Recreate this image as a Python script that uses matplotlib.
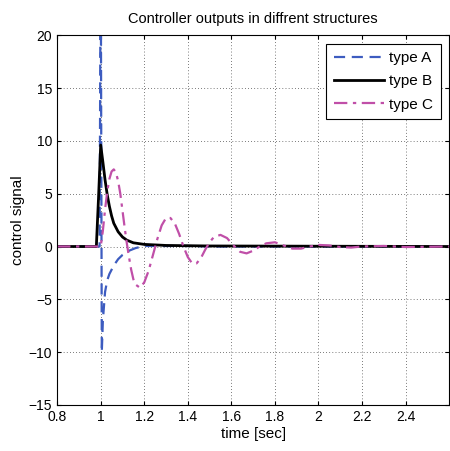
import matplotlib

matplotlib.use("Agg")
import matplotlib.pyplot as plt

plt.rcParams["font.family"] = ["Liberation Sans", "DejaVu Sans"]

# values (time in s, control signal)
t_a = [0.8, 0.995, 1.0, 1.005, 1.01, 1.02, 1.03, 1.04, 1.06, 1.08, 1.10,
       1.13, 1.16, 1.20, 1.30, 1.40, 1.50, 2.6]
u_a = [0.0, 0.0, 30.0, -10.0, -7.0, -4.3, -3.2, -2.6, -1.8, -1.2, -0.8,
       -0.4, -0.15, 0.05, 0.05, 0.05, 0.0, 0.0]

t_b = [0.8, 0.98, 0.99, 1.0, 1.01, 1.02, 1.03, 1.04, 1.05, 1.06, 1.08,
       1.10, 1.12, 1.15, 1.20, 1.30, 1.50, 2.6]
u_b = [0.0, 0.0, 4.6, 9.6, 8.0, 6.3, 4.9, 3.8, 2.9, 2.2, 1.4,
       0.9, 0.6, 0.35, 0.2, 0.1, 0.05, 0.0]

t_c = [0.8, 1.0, 1.01, 1.02, 1.03, 1.04, 1.05, 1.06, 1.07, 1.08, 1.09,
       1.10, 1.11, 1.12, 1.13, 1.14, 1.15, 1.16, 1.18, 1.20, 1.22, 1.24,
       1.26, 1.28, 1.30, 1.32, 1.34, 1.36, 1.38, 1.40, 1.42, 1.44, 1.46,
       1.48, 1.50, 1.52, 1.55, 1.58, 1.61, 1.64, 1.67, 1.70, 1.73, 1.76,
       1.80, 1.84, 1.88, 1.92, 1.96, 2.0, 2.05, 2.1, 2.15, 2.2, 2.3, 2.4, 2.6]
u_c = [0.0, 0.0, 1.5, 3.5, 5.2, 6.4, 7.1, 7.3, 7.0, 6.2, 5.0,
       3.4, 1.8, 0.3, -1.0, -2.2, -3.1, -3.6, -3.9, -3.4, -2.3, -0.8,
       0.7, 2.0, 2.7, 2.7, 2.2, 1.2, 0.0, -1.0, -1.6, -1.6, -1.1,
       -0.3, 0.4, 0.9, 1.1, 0.8, 0.1, -0.5, -0.65, -0.4, 0.0, 0.3,
       0.4, 0.1, -0.2, -0.2, 0.0, 0.15, 0.1, -0.05, -0.1, 0.0, 0.05, -0.05, 0.0]

x_ticks = [0.8, 1, 1.2, 1.4, 1.6, 1.8, 2, 2.2, 2.4]
x_labels = ["0.8", "1", "1.2", "1.4", "1.6", "1.8", "2", "2.2", "2.4"]
y_ticks = [-15, -10, -5, 0, 5, 10, 15, 20]

fig = plt.figure(figsize=(4.5, 4.51), dpi=100)
ax = fig.add_axes([0.127, 0.102, 0.871, 0.820])

ax.plot(t_a, u_a, color="#3d5cc0", ls=(0, (5, 3)), lw=1.6, label="type A")
ax.plot(t_b, u_b, color="black", lw=2.0, label="type B")
ax.plot(t_c, u_c, color="#c04fa8", ls=(0, (6, 2.5, 1.5, 2.5)), lw=1.6, label="type C")

ax.set_xlim(0.8, 2.6)
ax.set_ylim(-15, 20)
ax.set_xticks(x_ticks, x_labels)
ax.set_yticks(y_ticks)
ax.tick_params(direction="in", top=True, right=True, labelsize=10, length=3)
ax.grid(True, color="black", ls=(0, (1, 3.5)), lw=0.5)

ax.set_title("Controller outputs in diffrent structures", fontsize=10.5, pad=9)
ax.set_xlabel("time [sec]", fontsize=11, labelpad=2)
ax.set_ylabel("control signal", fontsize=11, labelpad=3)

leg = ax.legend(loc="upper right", fancybox=False, framealpha=1, edgecolor="black",
                fontsize=11, handlelength=3.3, borderaxespad=0.55, borderpad=0.5,
                labelspacing=0.6, handletextpad=0.3)
leg.get_frame().set_linewidth(0.8)

fig.savefig("out.png", dpi=100)
